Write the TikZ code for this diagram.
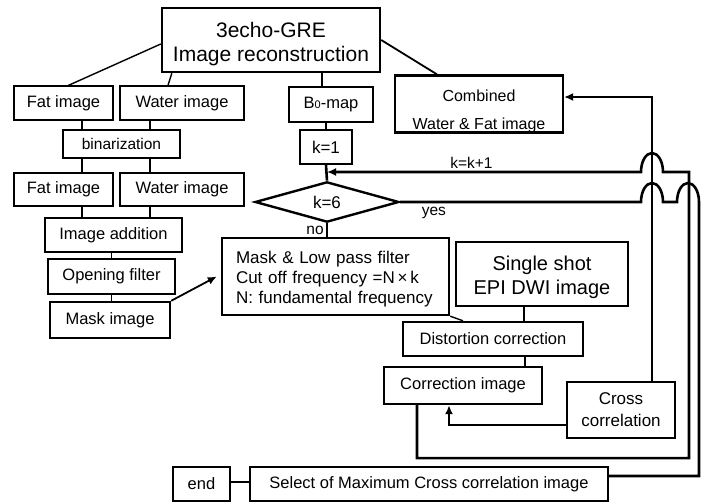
\documentclass[tikz,border=0pt]{standalone}
\usepackage{fontspec}
\setmainfont{Liberation Sans}
\usetikzlibrary{shapes.geometric,arrows.meta}

\tikzset{
  thinbox/.style={draw, line width=1.3pt, minimum height=34pt, inner sep=0pt, font=\fontsize{16.5}{20}\selectfont},
  midbox/.style={thinbox, line width=1.8pt},
  boldbox/.style={thinbox, line width=2.4pt},
  decision/.style={diamond, draw, line width=2.4pt, minimum width=144pt, minimum height=40pt, inner sep=0pt, font=\fontsize{17}{20}\selectfont},
  link/.style={line width=1.4pt},
  midlink/.style={line width=1.8pt},
  boldlink/.style={line width=2.6pt},
  tip/.style={-{Latex[length=9pt,width=8pt]}},
  lbl/.style={font=\fontsize{15.5}{18}\selectfont, inner sep=2pt},
}

\begin{document}
\begin{tikzpicture}[x=1pt,y=-1pt]
\useasboundingbox (0,0) rectangle (705,502);

% left column
\node[boldbox, minimum width=218pt, minimum height=64pt, align=center, font=\fontsize{21}{24}\selectfont] (gre) at (271,40) {\rule{0pt}{23pt}3echo-GRE\\Image reconstruction};
\node[thinbox, minimum width=99pt] (fat1) at (63.5,103) {Fat image};
\node[thinbox, minimum width=124pt] (water1) at (182,103) {Water image};
\node[thinbox, minimum width=117pt, minimum height=28pt, font=\fontsize{15.5}{18}\selectfont] (bin) at (121.5,144) {binarization};
\node[thinbox, minimum width=99pt, minimum height=33pt] (fat2) at (63.5,189.5) {Fat image};
\node[thinbox, minimum width=124pt, minimum height=33pt] (water2) at (182,189.5) {Water image};
\node[thinbox, minimum width=137pt] (add) at (113.5,235) {Image addition};
\node[thinbox, minimum width=127pt, minimum height=35pt] (open) at (111.5,276.5) {Opening filter};
\node[boldbox, minimum width=120pt, minimum height=36pt] (mask) at (110,320) {Mask image};

% middle column
\node[boldbox, minimum width=84pt, minimum height=35pt] (b0) at (331,104.5) {B{\fontsize{11}{11}\selectfont 0}-map};
\node[boldbox, minimum width=52pt, font=\fontsize{17}{20}\selectfont] (k1) at (326,147) {k=1};
\node[decision] (k6) at (327,202) {k=6};
\node[boldbox, minimum width=227pt, minimum height=77pt, text width=199pt, align=left, font=\fontsize{17}{20}\selectfont] (lpf) at (335.5,276.5) {\rule{0pt}{18.5pt}Mask \& Low pass filter\\Cut off frequency =N\,×\,k\\N: fundamental frequency};

% right column
\node[boldbox, minimum width=168pt, minimum height=56pt, align=center, font=\fontsize{16}{28}\selectfont] (comb) at (479,104) {\rule{0pt}{25.5pt}Combined\\Water \& Fat image};
\node[boldbox, minimum width=172pt, minimum height=64pt, align=center, font=\fontsize{20}{24}\selectfont] (epi) at (542,274) {\rule{0pt}{21pt}Single shot\\EPI DWI image};
\node[boldbox, minimum width=180pt] (dist) at (493,339) {Distortion correction};
\node[boldbox, minimum width=158pt, minimum height=37pt] (corr) at (463,385.5) {Correction image};
\node[midbox, minimum width=108pt, minimum height=56pt, align=center, font=\fontsize{17}{22}\selectfont] (xcorr) at (621,410) {Cross\\correlation};

% bottom row
\node[boldbox, minimum width=57pt] (endb) at (201.5,484) {end};
\node[midbox, minimum width=358pt] (select) at (429,484) {Select of Maximum Cross correlation image};

% mask branch
\draw[link] ([yshift=-4pt]gre.west) -- ([xshift=5pt]fat1.north);
\draw[link] ([xshift=11pt]gre.south west) -- ([xshift=-14pt]water1.north);
\draw[link] ([xshift=-39.5pt]bin.north) -- ([xshift=-39.5pt]bin.north |- fat1.south);
\draw[link] ([xshift=28.5pt]bin.north) -- ([xshift=28.5pt]bin.north |- water1.south);
\draw[link] ([xshift=-39.5pt]bin.south) -- ([xshift=-39.5pt]bin.south |- fat2.north);
\draw[link] ([xshift=28.5pt]bin.south) -- ([xshift=28.5pt]bin.south |- water2.north);
\draw[link] ([xshift=-31.5pt]add.north) -- ([xshift=-31.5pt]add.north |- fat2.south);
\draw[link] ([xshift=36.5pt]add.north) -- ([xshift=36.5pt]add.north |- water2.south);
\draw[link] (open.north) -- (open.north |- add.south);
\draw[link] (open.south) -- (open.south |- mask.north);
\draw[midlink, tip] (mask.north east) -- ([xshift=-4pt]lpf.west);

% loop
\draw[midlink] (gre.east) -- ([xshift=-42pt]comb.north);
\draw[boldlink] ([xshift=-9pt]b0.north) -- ([xshift=-9pt]b0.north |- gre.south);
\draw[boldlink] (k1.north) -- (k1.north |- b0.south);
\draw[boldlink] (k1.south) -- (k6.north);
\draw[boldlink] (k6.south) -- (k6.south |- lpf.north) node[lbl, midway, left] {no};
\draw[boldlink] (k6.east) -- node[lbl, pos=0.14, below, inner sep=4pt] {yes} (641,202)
  arc[start angle=180, end angle=0, x radius=11pt, y radius=19pt] -- (677,202)
  arc[start angle=180, end angle=0, x radius=11pt, y radius=19pt] -- (699,476)
  -- ([yshift=8pt]select.east);
\draw[boldlink, tip] ([xshift=-46pt]corr.south) -- ++(0,53) -| (689,172) -- (663,172)
  arc[start angle=0, end angle=180, x radius=11pt, y radius=19pt]
  -- node[lbl, pos=0.54, above] {k=k+1} (k6.north |- 0,172);

% correction
\draw[midlink] ([xshift=31pt]dist.north) -- ([xshift=31pt]dist.north |- epi.south);
\draw[link] (lpf.south east) -- ([xshift=-30pt]dist.north);
\draw[midlink] ([xshift=32pt]dist.south) -- ([xshift=32pt]dist.south |- corr.north);
\draw[boldlink, tip] ([yshift=-15pt]xcorr.west) -| ([xshift=-14pt]corr.south);
\draw[link, tip] ([xshift=31pt]xcorr.north) |- ([yshift=7pt]comb.east);
\draw[boldlink] ([yshift=2pt]endb.east) -- ([yshift=2pt]select.west);
\end{tikzpicture}
\end{document}
